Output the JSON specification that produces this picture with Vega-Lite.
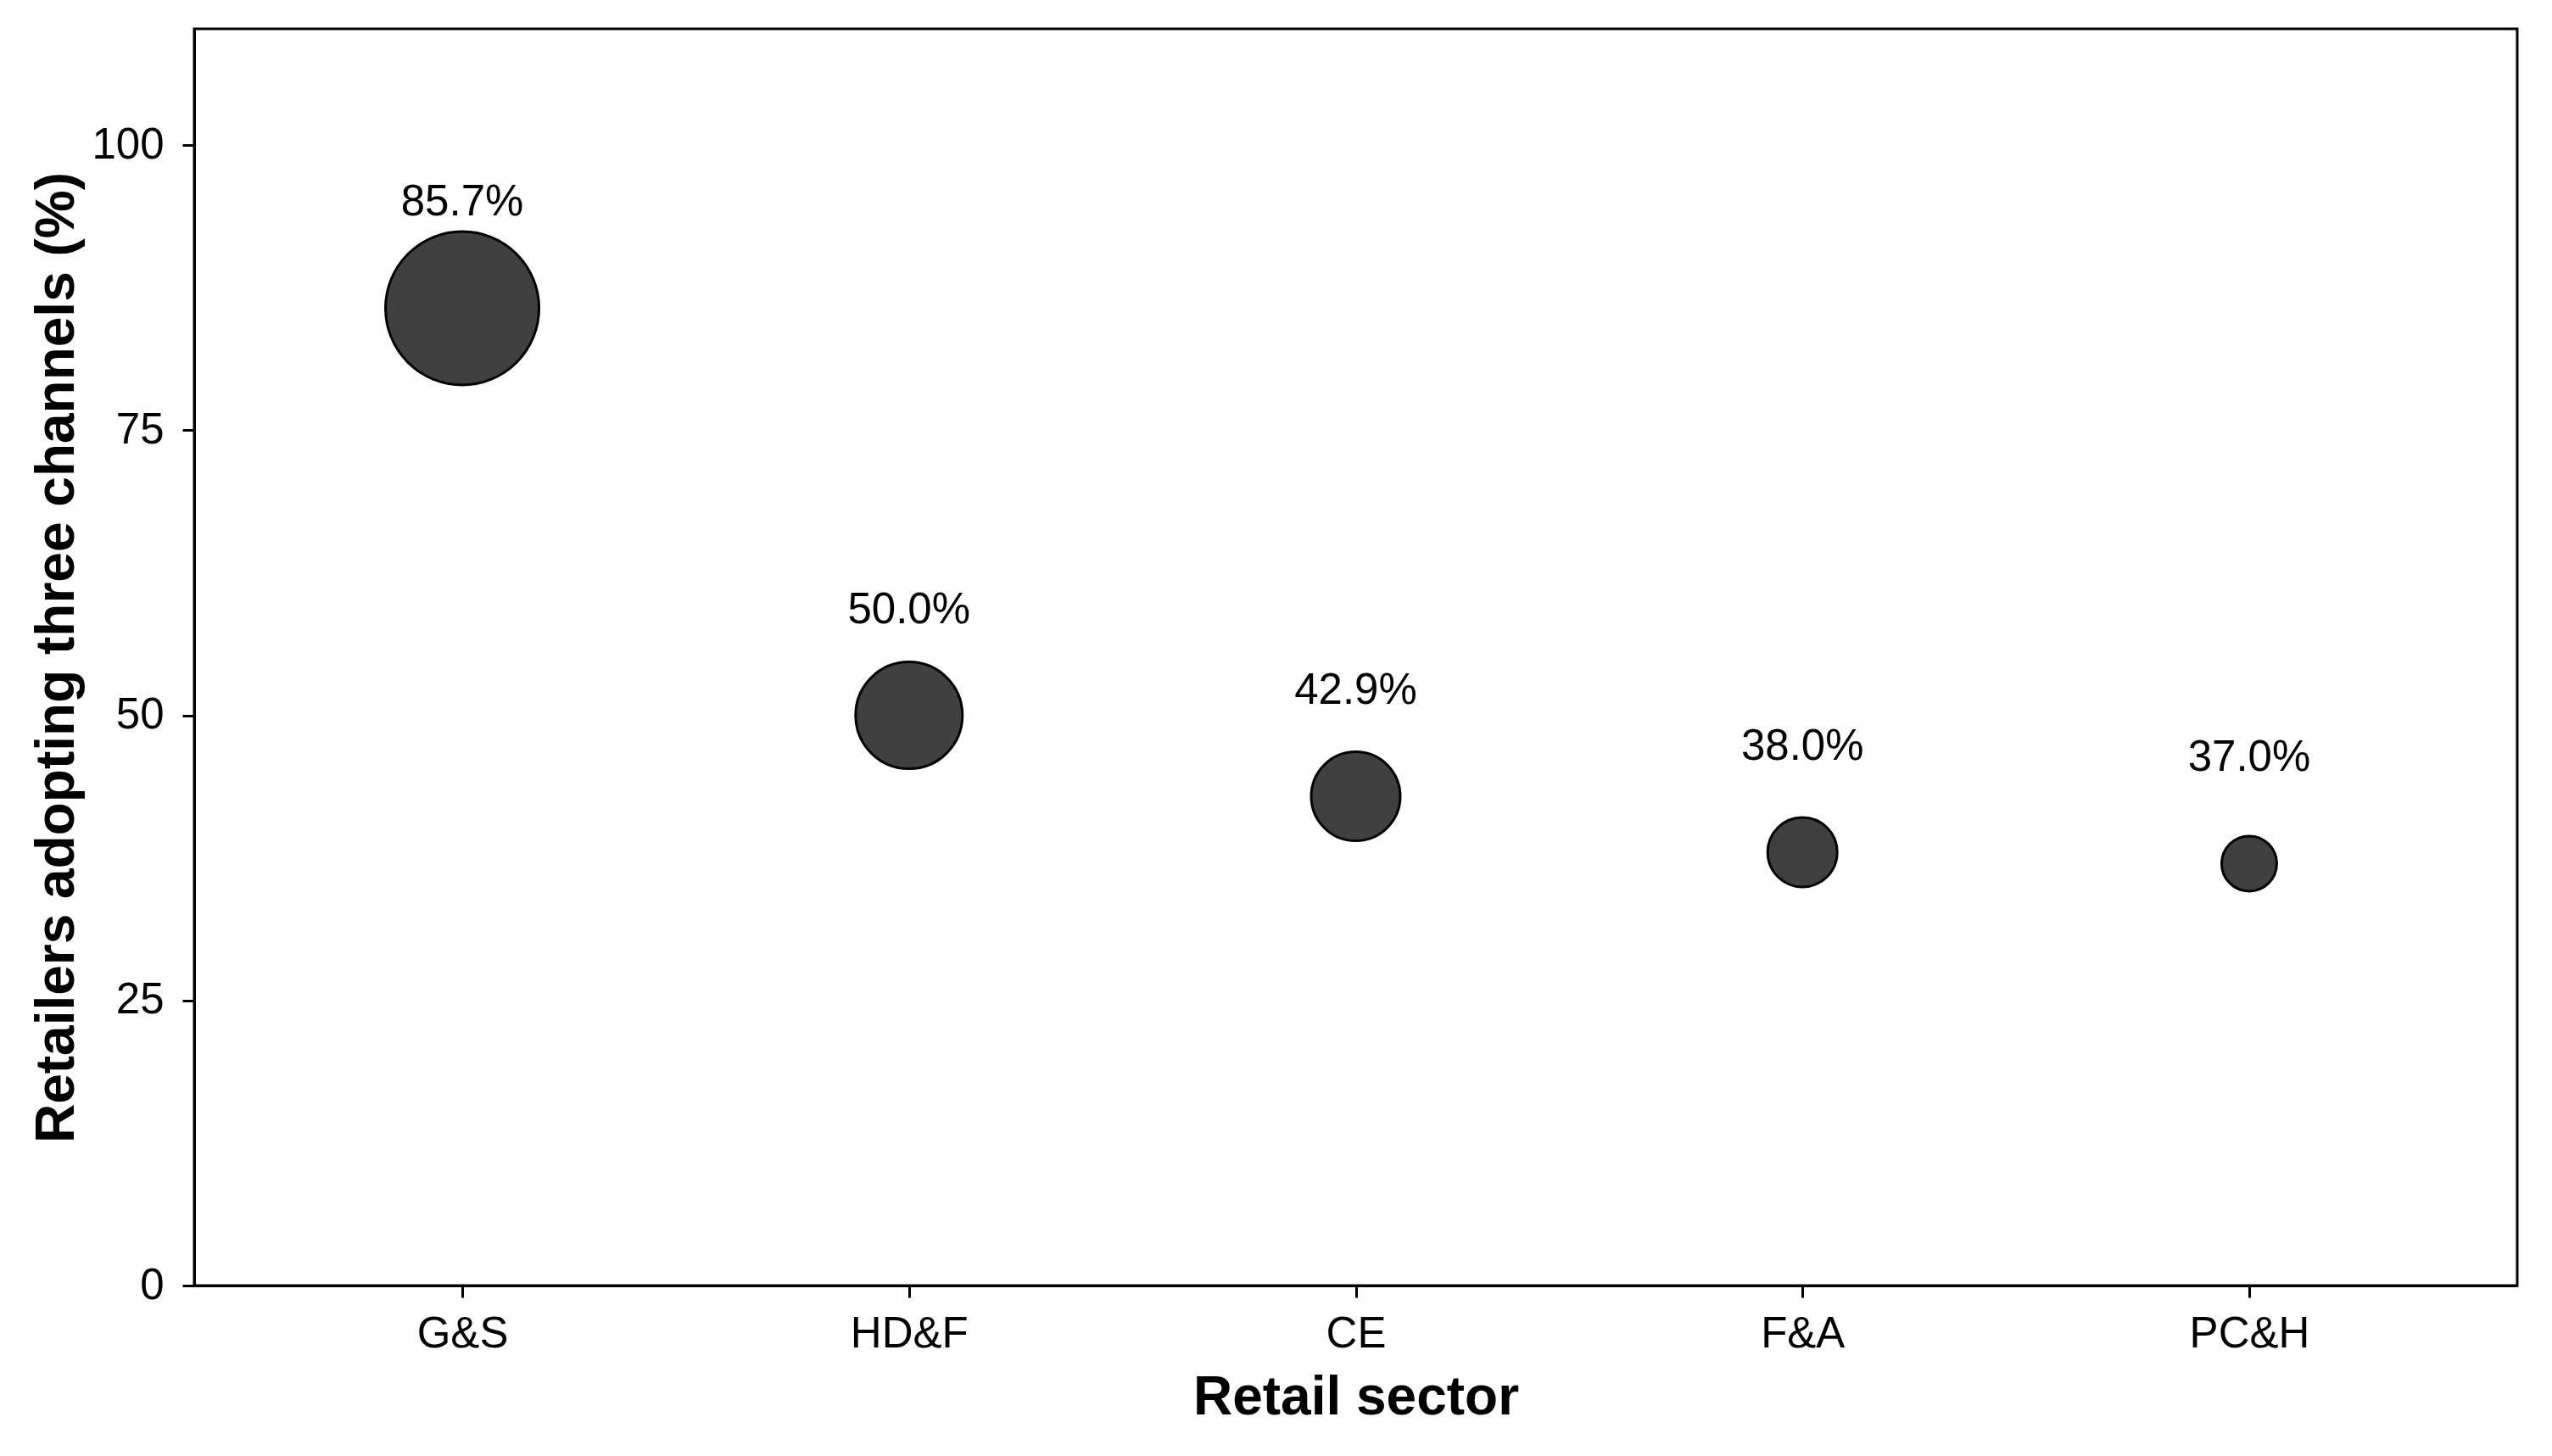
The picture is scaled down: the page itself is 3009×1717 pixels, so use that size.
{
  "$schema": "https://vega.github.io/schema/vega-lite/v6.json",
  "width": 2739,
  "height": 1482,
  "autosize": {"type": "none"},
  "padding": {"left": 229, "top": 34, "right": 41, "bottom": 201},
  "background": "white",
  "config": {
    "view": {"stroke": "black", "strokeWidth": 3},
    "font": "Liberation Sans",
    "axis": {
      "grid": false,
      "domainColor": "black",
      "domainWidth": 3,
      "tickColor": "black",
      "tickWidth": 3,
      "tickSize": 14,
      "labelColor": "black",
      "labelFontSize": 51,
      "labelFont": "Liberation Sans",
      "titleFont": "Liberation Sans",
      "titleFontSize": 64,
      "titleFontWeight": "bold",
      "titleColor": "black"
    }
  },
  "data": {
    "values": [
      {"sector": "G&S", "pct": 85.7, "label": "85.7%"},
      {"sector": "HD&F", "pct": 50.0, "label": "50.0%"},
      {"sector": "CE", "pct": 42.9, "label": "42.9%"},
      {"sector": "F&A", "pct": 38.0, "label": "38.0%"},
      {"sector": "PC&H", "pct": 37.0, "label": "37.0%"}
    ]
  },
  "encoding": {
    "x": {
      "field": "sector",
      "type": "nominal",
      "sort": null,
      "scale": {"type": "point", "padding": 0.6},
      "axis": {"title": "Retail sector", "labelAngle": 0, "labelPadding": 18, "titlePadding": 18}
    },
    "y": {
      "field": "pct",
      "type": "quantitative",
      "scale": {"domain": [0, 110.2], "nice": false, "zero": true},
      "axis": {"title": "Retailers adopting three channels (%)", "values": [0, 25, 50, 75, 100], "labelPadding": 22, "titlePadding": 8}
    }
  },
  "layer": [
    {
      "mark": {"type": "circle", "color": "#404040", "stroke": "black", "strokeWidth": 3, "opacity": 1},
      "encoding": {
        "size": {
          "field": "pct",
          "type": "quantitative",
          "scale": {"domain": [37, 38, 42.9, 50, 85.7], "range": [4225, 6724, 11025, 15876, 32761]},
          "legend": null
        }
      }
    },
    {
      "mark": {"type": "text", "baseline": "alphabetic", "dy": -109, "fontSize": 51, "color": "black", "font": "Liberation Sans"},
      "encoding": {"text": {"field": "label", "type": "nominal"}}
    }
  ]
}
